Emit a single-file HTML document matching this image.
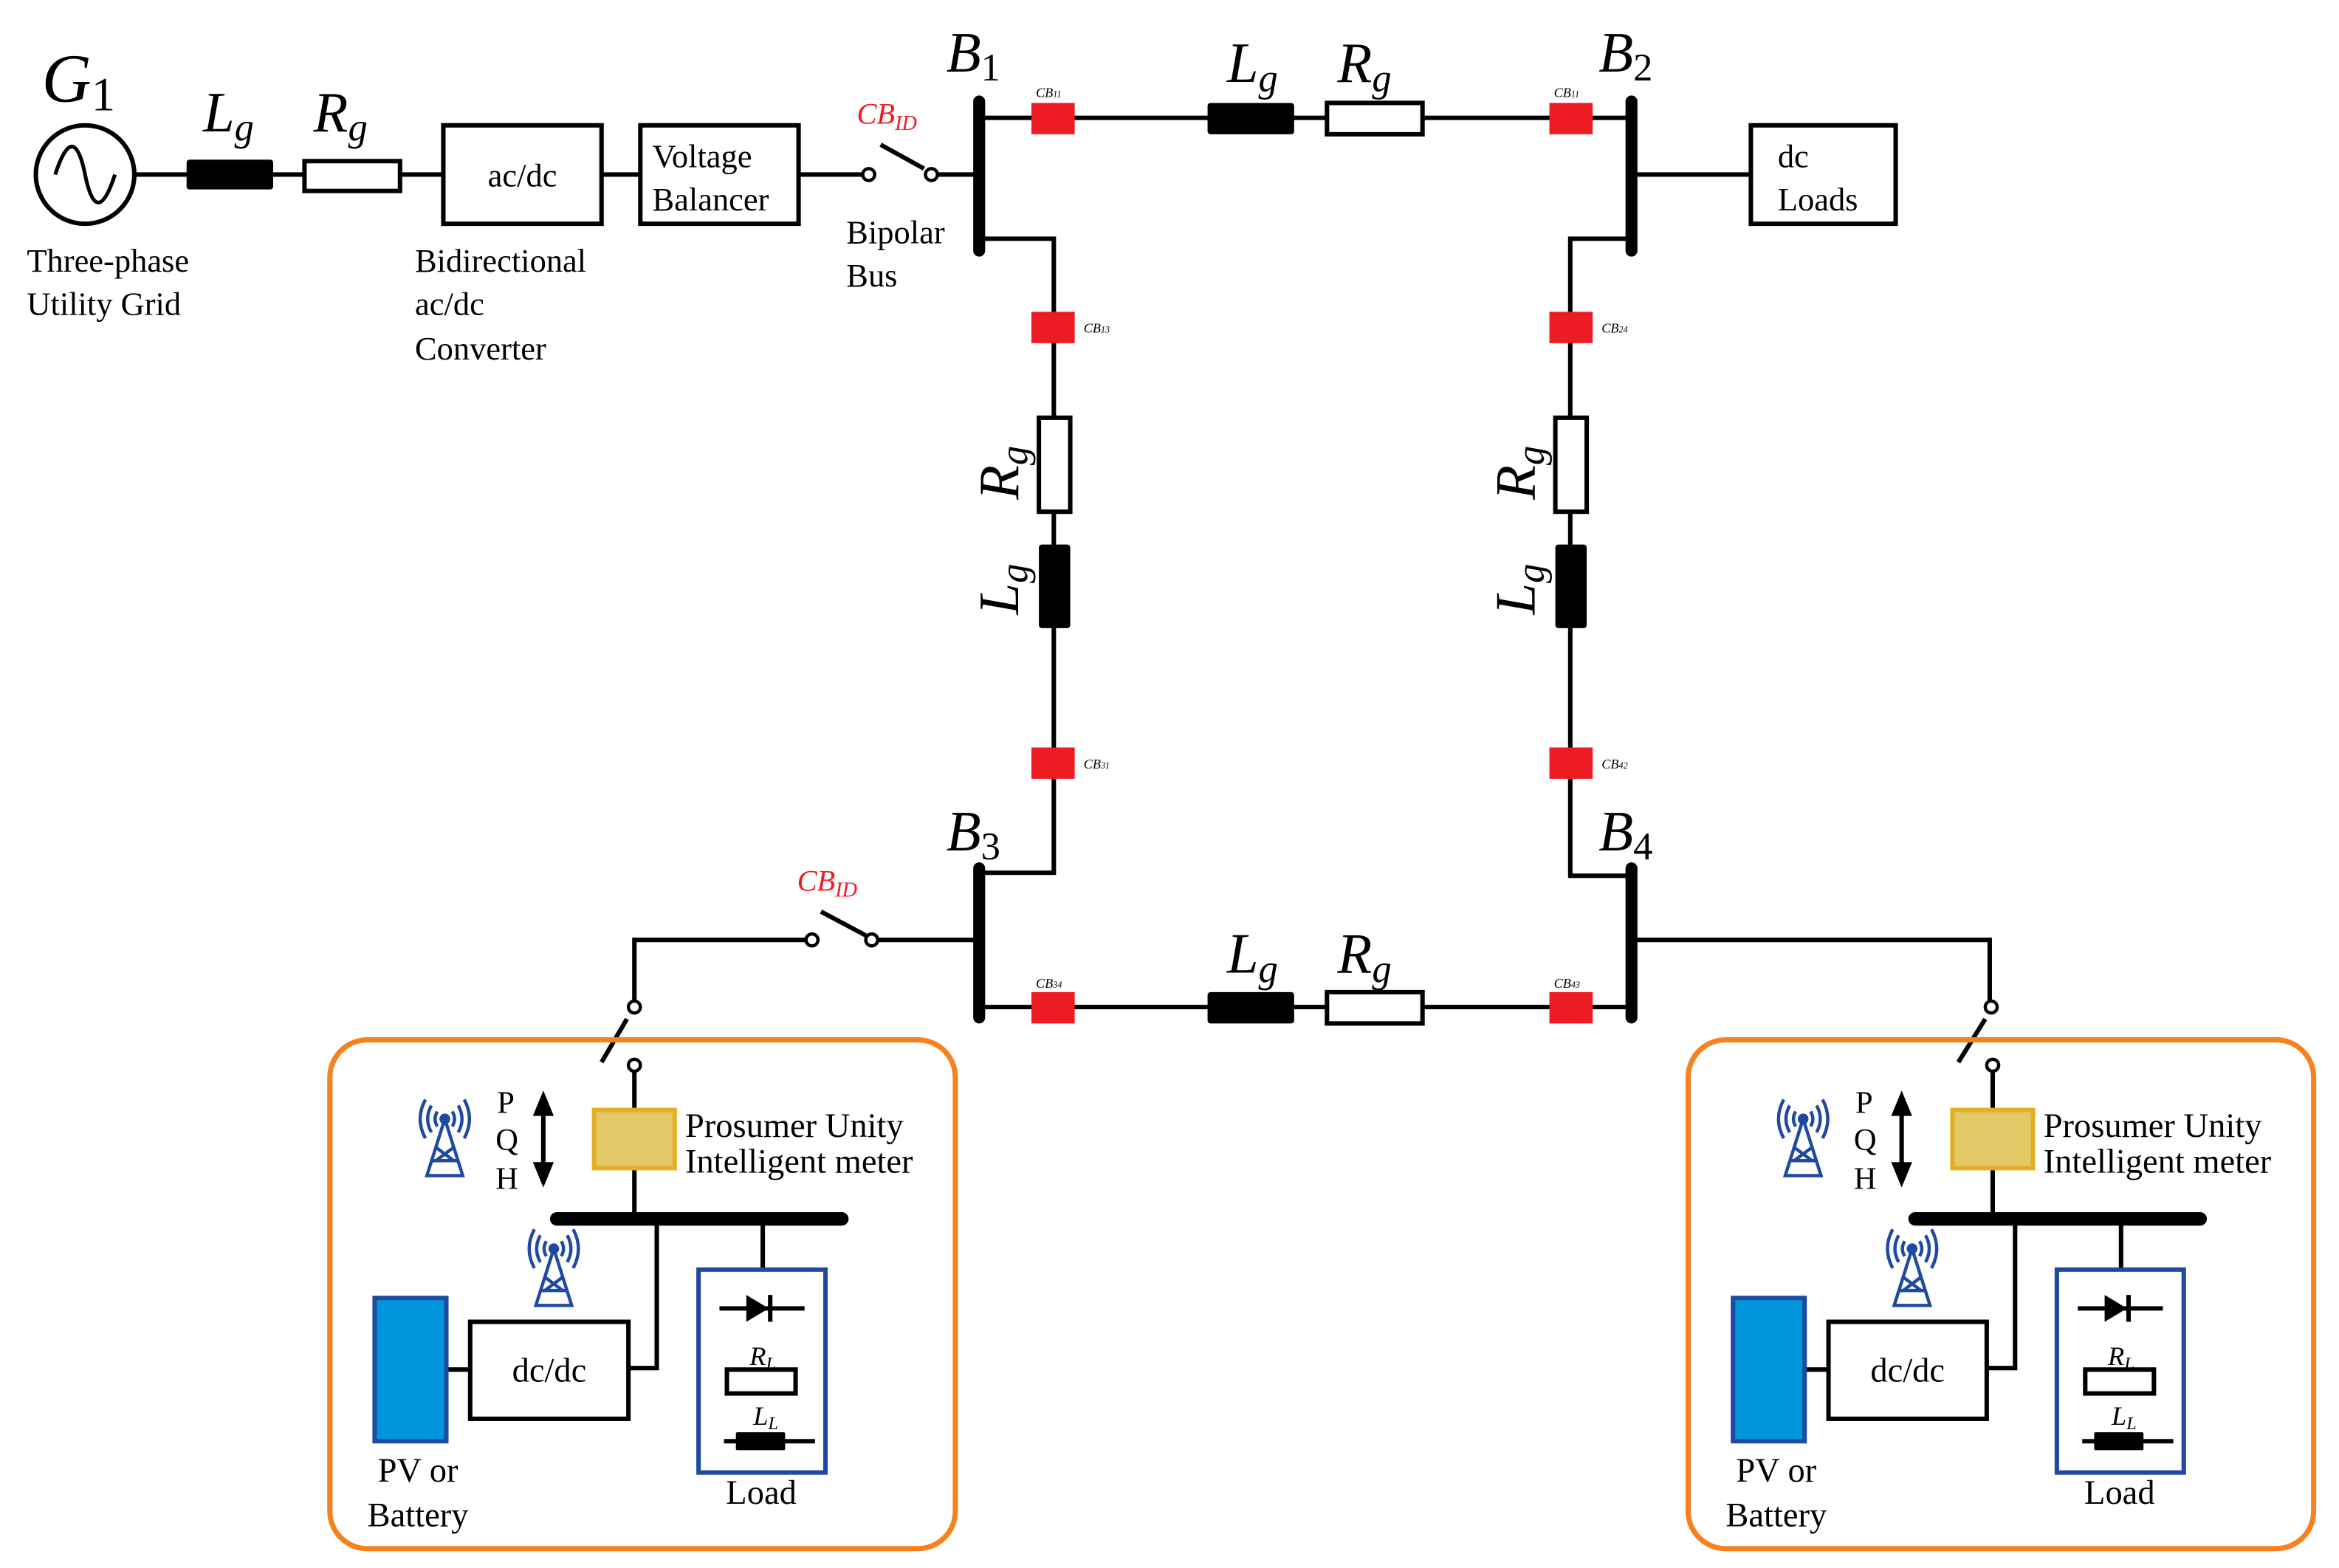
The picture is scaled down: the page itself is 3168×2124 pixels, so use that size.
<!DOCTYPE html>
<html><head><meta charset="utf-8"><style>
html,body{margin:0;padding:0;background:#fff;}
svg{display:block;}
text{font-family:"Liberation Serif",serif;fill:#000;}
.it{font-style:italic;}
</style></head><body>
<svg width="3168" height="2124" viewBox="0 0 1567 1051" preserveAspectRatio="none" xmlns="http://www.w3.org/2000/svg">
<defs>
<g id="ant" stroke="#1f4aa0" stroke-width="2.2" fill="none">
  <circle cx="0" cy="0" r="2.5" fill="#1f4aa0"/>
  <path d="M0,0 L-12,38 H12 Z M-6,19 L6,28 M6,19 L-6,28 M-9,28 H9"/>
  <path d="M-5,-5 Q-8,0 -5,5 M5,-5 Q8,0 5,5 M-9,-9 Q-14,0 -9,9 M9,-9 Q14,0 9,9 M-13,-13 Q-20,0 -13,13 M13,-13 Q20,0 13,13"/>
</g>
<g id="pros">
  <rect x="221" y="697" width="419" height="341" rx="25" fill="none" stroke="#f5821f" stroke-width="3.5"/>
  <line x1="425" y1="718" x2="425" y2="817" stroke="#000" stroke-width="3"/>
  <circle cx="425" cy="714" r="4" fill="#fff" stroke="#000" stroke-width="2.2"/>
  <rect x="398" y="744" width="54" height="39" fill="#e2c867" stroke="#e3b023" stroke-width="3"/>
  <text x="459" y="762" font-size="23">Prosumer Unity</text>
  <text x="459" y="786" font-size="23">Intelligent meter</text>
  <text x="333" y="746" font-size="21">P</text>
  <text x="332" y="771" font-size="21">Q</text>
  <text x="332" y="797" font-size="21">H</text>
  <line x1="364" y1="742" x2="364" y2="785" stroke="#000" stroke-width="3"/>
  <path d="M357,748 L364,731 L371,748 Z M357,779 L364,796 L371,779 Z" fill="#000"/>
  <use href="#ant" x="298" y="750"/>
  <use href="#ant" x="371" y="837"/>
  <line x1="373" y1="817" x2="564" y2="817" stroke="#000" stroke-width="9" stroke-linecap="round"/>
  <polyline points="440,817 440,917 421,917" fill="none" stroke="#000" stroke-width="3"/>
  <line x1="511" y1="817" x2="511" y2="851" stroke="#000" stroke-width="3"/>
  <rect x="315" y="886" width="106" height="65" fill="#fff" stroke="#000" stroke-width="3"/>
  <text x="368" y="926" font-size="23" text-anchor="middle">dc/dc</text>
  <line x1="300" y1="918" x2="315" y2="918" stroke="#000" stroke-width="3"/>
  <rect x="251" y="870" width="48" height="96" fill="#0096db" stroke="#1f4aa0" stroke-width="3"/>
  <text x="280" y="993" font-size="23" text-anchor="middle">PV or</text>
  <text x="280" y="1023" font-size="23" text-anchor="middle">Battery</text>
  <rect x="468" y="851" width="85" height="136" fill="none" stroke="#1f4aa0" stroke-width="3"/>
  <line x1="482" y1="877" x2="539" y2="877" stroke="#000" stroke-width="3"/>
  <path d="M500,868 L515,877 L500,886 Z" fill="#000"/><line x1="516" y1="868" x2="516" y2="886" stroke="#000" stroke-width="3"/>
  <text x="511" y="915" font-size="18" class="it" text-anchor="middle">R<tspan font-size="12" dy="3">L</tspan></text>
  <rect x="487" y="918" width="46" height="16" fill="#fff" stroke="#000" stroke-width="3"/>
  <text x="513" y="955" font-size="18" class="it" text-anchor="middle">L<tspan font-size="12" dy="3">L</tspan></text>
  <line x1="485" y1="966" x2="546" y2="966" stroke="#000" stroke-width="3"/>
  <rect x="493" y="960" width="33" height="12" fill="#000" rx="1"/>
  <text x="510" y="1008" font-size="23" text-anchor="middle">Load</text>
</g>
</defs>

<g stroke="#000" stroke-width="3" fill="none">
  <line x1="91" y1="117" x2="297" y2="117"/>
  <line x1="403" y1="117" x2="429" y2="117"/>
  <line x1="535" y1="117" x2="578" y2="117"/>
  <line x1="628" y1="117" x2="656" y2="117"/>
  <line x1="656" y1="79" x2="1093" y2="79"/>
  <line x1="1093" y1="117" x2="1173" y2="117"/>
  <polyline points="656,160 706,160 706,585 656,585"/>
  <polyline points="1093,160 1052,160 1052,587 1093,587"/>
  <line x1="656" y1="675" x2="1093" y2="675"/>
  <line x1="656" y1="630" x2="588" y2="630"/>
  <polyline points="540,630 425,630 425,671"/>
  <polyline points="1093,630 1333,630 1333,671"/>
  <line x1="590" y1="97" x2="619" y2="113"/>
  <line x1="550" y1="611" x2="580" y2="627"/>
  <line x1="420" y1="683" x2="403" y2="712"/>
  <line x1="1330" y1="683" x2="1312" y2="712"/>
</g>
<g fill="#fff" stroke="#000" stroke-width="2.2">
  <circle cx="582" cy="117" r="4"/><circle cx="624" cy="117" r="4"/>
  <circle cx="544" cy="630" r="4"/><circle cx="584" cy="630" r="4"/>
  <circle cx="425" cy="675" r="4"/><circle cx="1334" cy="675" r="4"/>
</g>
<circle cx="57" cy="117" r="33" fill="#fff" stroke="#000" stroke-width="3"/>
<path d="M37,117 C45,92 52,92 57,117 C62,142 69,142 77,117" fill="none" stroke="#000" stroke-width="2.5"/>
<rect x="125" y="107" width="58" height="20" fill="#000" rx="2"/>
<rect x="204" y="108" width="64" height="20" fill="#fff" stroke="#000" stroke-width="3"/>
<rect x="297" y="84" width="106" height="66" fill="#fff" stroke="#000" stroke-width="3"/>
<rect x="429" y="84" width="106" height="66" fill="#fff" stroke="#000" stroke-width="3"/>
<rect x="1173" y="84" width="97" height="66" fill="#fff" stroke="#000" stroke-width="3"/>
<g stroke="#000" stroke-width="8" stroke-linecap="round">
  <line x1="656" y1="68" x2="656" y2="168"/>
  <line x1="1093" y1="68" x2="1093" y2="168"/>
  <line x1="656" y1="582" x2="656" y2="682"/>
  <line x1="1093" y1="582" x2="1093" y2="682"/>
</g>
<rect x="809" y="69" width="58" height="21" fill="#000" rx="2"/>
<rect x="889" y="69" width="64" height="21" fill="#fff" stroke="#000" stroke-width="3"/>
<rect x="809" y="665" width="58" height="21" fill="#000" rx="2"/>
<rect x="889" y="665" width="64" height="21" fill="#fff" stroke="#000" stroke-width="3"/>
<rect x="696" y="280" width="21" height="63" fill="#fff" stroke="#000" stroke-width="3"/>
<rect x="696" y="365" width="21" height="56" fill="#000" rx="2"/>
<rect x="1042" y="280" width="21" height="63" fill="#fff" stroke="#000" stroke-width="3"/>
<rect x="1042" y="365" width="21" height="56" fill="#000" rx="2"/>
<g fill="#ed1c24">
  <rect x="691" y="69" width="29" height="21"/><rect x="1038" y="69" width="29" height="21"/>
  <rect x="691" y="209" width="29" height="21"/><rect x="1038" y="209" width="29" height="21"/>
  <rect x="691" y="501" width="29" height="21"/><rect x="1038" y="501" width="29" height="21"/>
  <rect x="691" y="665" width="29" height="21"/><rect x="1038" y="665" width="29" height="21"/>
</g>
<g font-size="9" class="it">
  <text x="694" y="65">CB<tspan font-size="6">11</tspan></text>
  <text x="1041" y="65">CB<tspan font-size="6">11</tspan></text>
  <text x="726" y="223">CB<tspan font-size="6">13</tspan></text>
  <text x="1073" y="223">CB<tspan font-size="6">24</tspan></text>
  <text x="726" y="515">CB<tspan font-size="6">31</tspan></text>
  <text x="1073" y="515">CB<tspan font-size="6">42</tspan></text>
  <text x="694" y="662">CB<tspan font-size="6">34</tspan></text>
  <text x="1041" y="662">CB<tspan font-size="6">43</tspan></text>
</g>
<text x="28" y="68" font-size="46" class="it">G<tspan font-size="32" dy="6" font-style="normal">1</tspan></text>
<text x="136" y="88" font-size="38" class="it">L<tspan font-size="26" dy="6">g</tspan></text>
<text x="210" y="88" font-size="38" class="it">R<tspan font-size="26" dy="6">g</tspan></text>
<text x="18" y="182" font-size="22">Three-phase</text>
<text x="18" y="211" font-size="22">Utility Grid</text>
<text x="278" y="182" font-size="22">Bidirectional</text>
<text x="278" y="211" font-size="22">ac/dc</text>
<text x="278" y="241" font-size="22">Converter</text>
<text x="350" y="125" font-size="22" text-anchor="middle">ac/dc</text>
<text x="437" y="112" font-size="22">Voltage</text>
<text x="437" y="141" font-size="22">Balancer</text>
<text x="1191" y="112" font-size="22">dc</text>
<text x="1191" y="141" font-size="22">Loads</text>
<text x="567" y="163" font-size="22">Bipolar</text>
<text x="567" y="192" font-size="22">Bus</text>
<text x="574" y="83" font-size="20" class="it" style="fill:#ed1c24">CB<tspan font-size="14" dy="4">ID</tspan></text>
<text x="534" y="597" font-size="20" class="it" style="fill:#ed1c24">CB<tspan font-size="14" dy="4">ID</tspan></text>
<text x="634" y="48" font-size="38" class="it">B<tspan font-size="26" dy="6" font-style="normal">1</tspan></text>
<text x="1071" y="48" font-size="38" class="it">B<tspan font-size="26" dy="6" font-style="normal">2</tspan></text>
<text x="634" y="570" font-size="38" class="it">B<tspan font-size="26" dy="6" font-style="normal">3</tspan></text>
<text x="1071" y="570" font-size="38" class="it">B<tspan font-size="26" dy="6" font-style="normal">4</tspan></text>
<text x="822" y="55" font-size="38" class="it">L<tspan font-size="26" dy="6">g</tspan></text>
<text x="896" y="55" font-size="38" class="it">R<tspan font-size="26" dy="6">g</tspan></text>
<text x="822" y="652" font-size="38" class="it">L<tspan font-size="26" dy="6">g</tspan></text>
<text x="896" y="652" font-size="38" class="it">R<tspan font-size="26" dy="6">g</tspan></text>
<text transform="translate(682,335) rotate(-90)" font-size="38" class="it">R<tspan font-size="26" dy="6">g</tspan></text>
<text transform="translate(682,412) rotate(-90)" font-size="38" class="it">L<tspan font-size="26" dy="6">g</tspan></text>
<text transform="translate(1028,335) rotate(-90)" font-size="38" class="it">R<tspan font-size="26" dy="6">g</tspan></text>
<text transform="translate(1028,412) rotate(-90)" font-size="38" class="it">L<tspan font-size="26" dy="6">g</tspan></text>
<use href="#pros"/>
<use href="#pros" x="910"/>
</svg>
</body></html>
